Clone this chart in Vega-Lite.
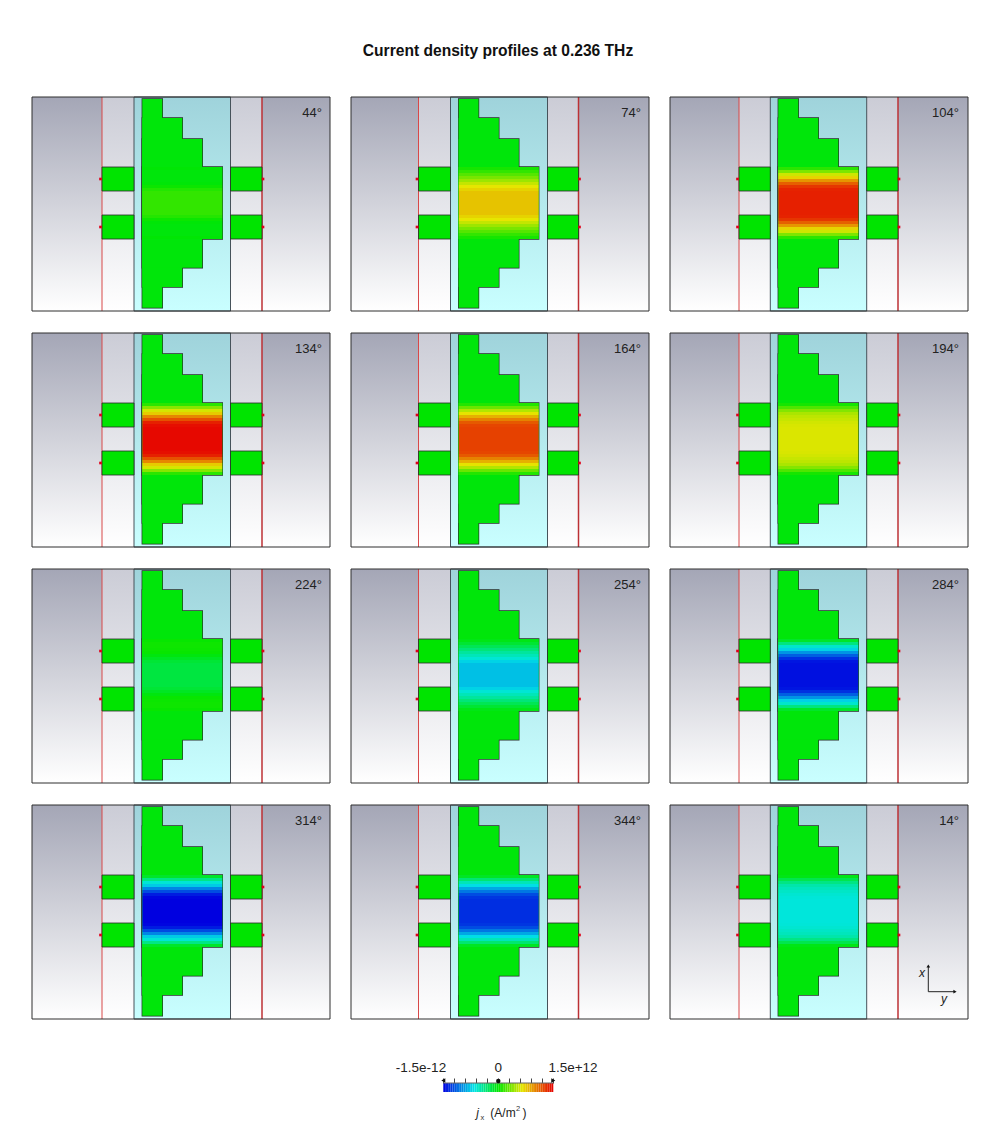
{"$schema":"https://vega.github.io/schema/vega-lite/v6.json","background":"white","padding":{"left":31,"top":43,"right":0,"bottom":0},"title":{"text":"Current density profiles at 0.236 THz","font":"Liberation Sans","fontSize":15.6,"fontWeight":"bold","color":"#111111","anchor":"middle","offset":36,"dx":-2},"config":{"view":{"stroke":null},"header":{"labels":false,"title":null,"labelExpr":"''","labelFontSize":1,"labelPadding":0}},"spacing":41,"vconcat":[{"data":{"values":[
{"k":"o","p":[44,134,224,314],"x":0,"x2":70,"y":0,"y2":214},{"k":"o","p":[44,134,224,314],"x":230,"x2":298,"y":0,"y2":214},{"k":"i","p":[44,134,224,314],"x":70,"x2":102,"y":0,"y2":214},{"k":"i","p":[44,134,224,314],"x":198.5,"x2":230,"y":0,"y2":214},{"k":"s","p":[44,134,224,314],"x":102,"x2":198.5,"y":0,"y2":214},
{"k":"r","p":[44,134,224,314],"x":70,"x2":70,"y":0,"y2":214},{"k":"R","p":[44,134,224,314],"x":230,"x2":230,"y":0,"y2":214},
{"k":"g","p":[44,134,224,314],"x":70,"x2":102,"y":70,"y2":94},{"k":"g","p":[44,134,224,314],"x":70,"x2":102,"y":118,"y2":142},{"k":"g","p":[44,134,224,314],"x":198.5,"x2":230,"y":70,"y2":94},{"k":"g","p":[44,134,224,314],"x":198.5,"x2":230,"y":118,"y2":142},
{"k":"d","p":[44,134,224,314],"x":68.5,"y":82},{"k":"d","p":[44,134,224,314],"x":68.5,"y":130},{"k":"d","p":[44,134,224,314],"x":231,"y":82},{"k":"d","p":[44,134,224,314],"x":231,"y":130},
{"k":"t","p":[44,134,224,314],"x":110.3,"x2":130.3,"y":2,"y2":210.7},{"k":"t","p":[44,134,224,314],"x":110.3,"x2":150.3,"y":21,"y2":190},{"k":"t","p":[44,134,224,314],"x":110.3,"x2":170.3,"y":42,"y2":170.7},{"k":"t","p":[44,134,224,314],"x":110.3,"x2":190.3,"y":70,"y2":142},
{"k":"o","p":[74,164,254,344],"x":0,"x2":67.5,"y":0,"y2":214},{"k":"o","p":[74,164,254,344],"x":227.5,"x2":298,"y":0,"y2":214},{"k":"i","p":[74,164,254,344],"x":67.5,"x2":99.5,"y":0,"y2":214},{"k":"i","p":[74,164,254,344],"x":196.5,"x2":227.5,"y":0,"y2":214},{"k":"s","p":[74,164,254,344],"x":99.5,"x2":196.5,"y":0,"y2":214},
{"k":"r","p":[74,164,254,344],"x":67.5,"x2":67.5,"y":0,"y2":214},{"k":"R","p":[74,164,254,344],"x":227.5,"x2":227.5,"y":0,"y2":214},
{"k":"g","p":[74,164,254,344],"x":67.5,"x2":99.5,"y":70,"y2":94},{"k":"g","p":[74,164,254,344],"x":67.5,"x2":99.5,"y":118,"y2":142},{"k":"g","p":[74,164,254,344],"x":196.5,"x2":227.5,"y":70,"y2":94},{"k":"g","p":[74,164,254,344],"x":196.5,"x2":227.5,"y":118,"y2":142},
{"k":"d","p":[74,164,254,344],"x":66,"y":82},{"k":"d","p":[74,164,254,344],"x":66,"y":130},{"k":"d","p":[74,164,254,344],"x":228.5,"y":82},{"k":"d","p":[74,164,254,344],"x":228.5,"y":130},
{"k":"t","p":[74,164,254,344],"x":107.7,"x2":127.5,"y":2,"y2":210.7},{"k":"t","p":[74,164,254,344],"x":107.7,"x2":147.8,"y":21,"y2":190},{"k":"t","p":[74,164,254,344],"x":107.7,"x2":167.8,"y":42,"y2":170.7},{"k":"t","p":[74,164,254,344],"x":107.7,"x2":187.7,"y":70,"y2":142},
{"k":"o","p":[104,194,284,14],"x":0,"x2":69,"y":0,"y2":214},{"k":"o","p":[104,194,284,14],"x":228,"x2":298,"y":0,"y2":214},{"k":"i","p":[104,194,284,14],"x":69,"x2":100.3,"y":0,"y2":214},{"k":"i","p":[104,194,284,14],"x":196.7,"x2":228,"y":0,"y2":214},{"k":"s","p":[104,194,284,14],"x":100.3,"x2":196.7,"y":0,"y2":214},
{"k":"r","p":[104,194,284,14],"x":69,"x2":69,"y":0,"y2":214},{"k":"R","p":[104,194,284,14],"x":228,"x2":228,"y":0,"y2":214},
{"k":"g","p":[104,194,284,14],"x":69,"x2":100.3,"y":70,"y2":94},{"k":"g","p":[104,194,284,14],"x":69,"x2":100.3,"y":118,"y2":142},{"k":"g","p":[104,194,284,14],"x":196.7,"x2":228,"y":70,"y2":94},{"k":"g","p":[104,194,284,14],"x":196.7,"x2":228,"y":118,"y2":142},
{"k":"d","p":[104,194,284,14],"x":67.5,"y":82},{"k":"d","p":[104,194,284,14],"x":67.5,"y":130},{"k":"d","p":[104,194,284,14],"x":229,"y":82},{"k":"d","p":[104,194,284,14],"x":229,"y":130},
{"k":"t","p":[104,194,284,14],"x":108.3,"x2":128.3,"y":2,"y2":210.7},{"k":"t","p":[104,194,284,14],"x":108.3,"x2":148.3,"y":21,"y2":190},{"k":"t","p":[104,194,284,14],"x":108.3,"x2":168.3,"y":42,"y2":170.7},{"k":"t","p":[104,194,284,14],"x":108.3,"x2":188.3,"y":70,"y2":142},
{"k":"f","p":[44,74,104,134,164,194,224,254,284,314,344,14],"x":0,"x2":298,"y":0,"y2":214},
{"k":"a","p":[44],"x":290,"y":16,"t":"44°"},{"k":"a","p":[74],"x":290,"y":16,"t":"74°"},{"k":"a","p":[104],"x":289,"y":16,"t":"104°"},{"k":"a","p":[134],"x":290,"y":16,"t":"134°"},{"k":"a","p":[164],"x":290,"y":16,"t":"164°"},{"k":"a","p":[194],"x":289,"y":16,"t":"194°"},{"k":"a","p":[224],"x":290,"y":16,"t":"224°"},{"k":"a","p":[254],"x":290,"y":16,"t":"254°"},{"k":"a","p":[284],"x":289,"y":16,"t":"284°"},{"k":"a","p":[314],"x":290,"y":16,"t":"314°"},{"k":"a","p":[344],"x":290,"y":16,"t":"344°"},{"k":"a","p":[14],"x":289,"y":16,"t":"14°"},
{"k":"v","p":[14],"x":258.3,"x2":258.3,"y":186.7,"y2":162},{"k":"v","p":[14],"x":258.3,"x2":284,"y":186.7,"y2":186.7},
{"k":"u","p":[14],"x":258.3,"y":161},{"k":"w","p":[14],"x":285,"y":186.7},
{"k":"e","p":[14],"x":252,"y":168,"t":"x"},{"k":"e","p":[14],"x":274,"y":194,"t":"y"},
{"k":"h","p":[44],"x":110.3,"x2":190.3,"y":70,"y2":73,"v":-0.01},{"k":"h","p":[44],"x":110.3,"x2":190.3,"y":73,"y2":76,"v":-0.03},{"k":"h","p":[44],"x":110.3,"x2":190.3,"y":76,"y2":79,"v":-0.03},{"k":"h","p":[44],"x":110.3,"x2":190.3,"y":79,"y2":82,"v":-0.03},{"k":"h","p":[44],"x":110.3,"x2":190.3,"y":82,"y2":85,"v":-0.03},{"k":"h","p":[44],"x":110.3,"x2":190.3,"y":85,"y2":88,"v":-0.02},{"k":"h","p":[44],"x":110.3,"x2":190.3,"y":88,"y2":91,"v":0.03},{"k":"h","p":[44],"x":110.3,"x2":190.3,"y":91,"y2":94,"v":0.1},{"k":"h","p":[44],"x":110.3,"x2":190.3,"y":94,"y2":118,"v":0.14},{"k":"h","p":[44],"x":110.3,"x2":190.3,"y":118,"y2":121,"v":0.1},{"k":"h","p":[44],"x":110.3,"x2":190.3,"y":121,"y2":124,"v":0.03},{"k":"h","p":[44],"x":110.3,"x2":190.3,"y":124,"y2":127,"v":-0.02},{"k":"h","p":[44],"x":110.3,"x2":190.3,"y":127,"y2":130,"v":-0.03},{"k":"h","p":[44],"x":110.3,"x2":190.3,"y":130,"y2":133,"v":-0.03},{"k":"h","p":[44],"x":110.3,"x2":190.3,"y":133,"y2":136,"v":-0.03},{"k":"h","p":[44],"x":110.3,"x2":190.3,"y":136,"y2":139,"v":-0.03},{"k":"h","p":[44],"x":110.3,"x2":190.3,"y":139,"y2":142,"v":-0.01},
{"k":"h","p":[134],"x":110.3,"x2":190.3,"y":70,"y2":73,"v":0.12},{"k":"h","p":[134],"x":110.3,"x2":190.3,"y":73,"y2":76,"v":0.38},{"k":"h","p":[134],"x":110.3,"x2":190.3,"y":76,"y2":79,"v":0.6},{"k":"h","p":[134],"x":110.3,"x2":190.3,"y":79,"y2":82,"v":0.75},{"k":"h","p":[134],"x":110.3,"x2":190.3,"y":82,"y2":85,"v":1.0},{"k":"h","p":[134],"x":110.3,"x2":190.3,"y":85,"y2":88,"v":1.2},{"k":"h","p":[134],"x":110.3,"x2":190.3,"y":88,"y2":91,"v":1.38},{"k":"h","p":[134],"x":110.3,"x2":190.3,"y":91,"y2":94,"v":1.45},{"k":"h","p":[134],"x":110.3,"x2":190.3,"y":94,"y2":118,"v":1.47},{"k":"h","p":[134],"x":110.3,"x2":190.3,"y":118,"y2":121,"v":1.45},{"k":"h","p":[134],"x":110.3,"x2":190.3,"y":121,"y2":124,"v":1.38},{"k":"h","p":[134],"x":110.3,"x2":190.3,"y":124,"y2":127,"v":1.2},{"k":"h","p":[134],"x":110.3,"x2":190.3,"y":127,"y2":130,"v":1.0},{"k":"h","p":[134],"x":110.3,"x2":190.3,"y":130,"y2":133,"v":0.75},{"k":"h","p":[134],"x":110.3,"x2":190.3,"y":133,"y2":136,"v":0.6},{"k":"h","p":[134],"x":110.3,"x2":190.3,"y":136,"y2":139,"v":0.38},{"k":"h","p":[134],"x":110.3,"x2":190.3,"y":139,"y2":142,"v":0.12},
{"k":"h","p":[224],"x":110.3,"x2":190.3,"y":70,"y2":73,"v":0.02},{"k":"h","p":[224],"x":110.3,"x2":190.3,"y":73,"y2":76,"v":0.04},{"k":"h","p":[224],"x":110.3,"x2":190.3,"y":76,"y2":79,"v":0.04},{"k":"h","p":[224],"x":110.3,"x2":190.3,"y":79,"y2":82,"v":0.03},{"k":"h","p":[224],"x":110.3,"x2":190.3,"y":82,"y2":85,"v":0.02},{"k":"h","p":[224],"x":110.3,"x2":190.3,"y":85,"y2":88,"v":-0.04},{"k":"h","p":[224],"x":110.3,"x2":190.3,"y":88,"y2":91,"v":-0.1},{"k":"h","p":[224],"x":110.3,"x2":190.3,"y":91,"y2":94,"v":-0.15},{"k":"h","p":[224],"x":110.3,"x2":190.3,"y":94,"y2":118,"v":-0.18},{"k":"h","p":[224],"x":110.3,"x2":190.3,"y":118,"y2":121,"v":-0.15},{"k":"h","p":[224],"x":110.3,"x2":190.3,"y":121,"y2":124,"v":-0.1},{"k":"h","p":[224],"x":110.3,"x2":190.3,"y":124,"y2":127,"v":-0.04},{"k":"h","p":[224],"x":110.3,"x2":190.3,"y":127,"y2":130,"v":0.02},{"k":"h","p":[224],"x":110.3,"x2":190.3,"y":130,"y2":133,"v":0.03},{"k":"h","p":[224],"x":110.3,"x2":190.3,"y":133,"y2":136,"v":0.04},{"k":"h","p":[224],"x":110.3,"x2":190.3,"y":136,"y2":139,"v":0.04},{"k":"h","p":[224],"x":110.3,"x2":190.3,"y":139,"y2":142,"v":0.02},
{"k":"h","p":[314],"x":110.3,"x2":190.3,"y":70,"y2":73,"v":-0.12},{"k":"h","p":[314],"x":110.3,"x2":190.3,"y":73,"y2":76,"v":-0.38},{"k":"h","p":[314],"x":110.3,"x2":190.3,"y":76,"y2":79,"v":-0.6},{"k":"h","p":[314],"x":110.3,"x2":190.3,"y":79,"y2":82,"v":-0.75},{"k":"h","p":[314],"x":110.3,"x2":190.3,"y":82,"y2":85,"v":-1.0},{"k":"h","p":[314],"x":110.3,"x2":190.3,"y":85,"y2":88,"v":-1.22},{"k":"h","p":[314],"x":110.3,"x2":190.3,"y":88,"y2":91,"v":-1.4},{"k":"h","p":[314],"x":110.3,"x2":190.3,"y":91,"y2":94,"v":-1.48},{"k":"h","p":[314],"x":110.3,"x2":190.3,"y":94,"y2":118,"v":-1.5},{"k":"h","p":[314],"x":110.3,"x2":190.3,"y":118,"y2":121,"v":-1.48},{"k":"h","p":[314],"x":110.3,"x2":190.3,"y":121,"y2":124,"v":-1.4},{"k":"h","p":[314],"x":110.3,"x2":190.3,"y":124,"y2":127,"v":-1.22},{"k":"h","p":[314],"x":110.3,"x2":190.3,"y":127,"y2":130,"v":-1.0},{"k":"h","p":[314],"x":110.3,"x2":190.3,"y":130,"y2":133,"v":-0.75},{"k":"h","p":[314],"x":110.3,"x2":190.3,"y":133,"y2":136,"v":-0.6},{"k":"h","p":[314],"x":110.3,"x2":190.3,"y":136,"y2":139,"v":-0.38},{"k":"h","p":[314],"x":110.3,"x2":190.3,"y":139,"y2":142,"v":-0.12},
{"k":"h","p":[74],"x":107.7,"x2":187.7,"y":70,"y2":73,"v":0.06},{"k":"h","p":[74],"x":107.7,"x2":187.7,"y":73,"y2":76,"v":0.14},{"k":"h","p":[74],"x":107.7,"x2":187.7,"y":76,"y2":79,"v":0.24},{"k":"h","p":[74],"x":107.7,"x2":187.7,"y":79,"y2":82,"v":0.34},{"k":"h","p":[74],"x":107.7,"x2":187.7,"y":82,"y2":85,"v":0.44},{"k":"h","p":[74],"x":107.7,"x2":187.7,"y":85,"y2":88,"v":0.55},{"k":"h","p":[74],"x":107.7,"x2":187.7,"y":88,"y2":91,"v":0.65},{"k":"h","p":[74],"x":107.7,"x2":187.7,"y":91,"y2":94,"v":0.72},{"k":"h","p":[74],"x":107.7,"x2":187.7,"y":94,"y2":118,"v":0.78},{"k":"h","p":[74],"x":107.7,"x2":187.7,"y":118,"y2":121,"v":0.72},{"k":"h","p":[74],"x":107.7,"x2":187.7,"y":121,"y2":124,"v":0.65},{"k":"h","p":[74],"x":107.7,"x2":187.7,"y":124,"y2":127,"v":0.55},{"k":"h","p":[74],"x":107.7,"x2":187.7,"y":127,"y2":130,"v":0.44},{"k":"h","p":[74],"x":107.7,"x2":187.7,"y":130,"y2":133,"v":0.34},{"k":"h","p":[74],"x":107.7,"x2":187.7,"y":133,"y2":136,"v":0.24},{"k":"h","p":[74],"x":107.7,"x2":187.7,"y":136,"y2":139,"v":0.14},{"k":"h","p":[74],"x":107.7,"x2":187.7,"y":139,"y2":142,"v":0.06},
{"k":"h","p":[164],"x":107.7,"x2":187.7,"y":70,"y2":73,"v":0.1},{"k":"h","p":[164],"x":107.7,"x2":187.7,"y":73,"y2":76,"v":0.3},{"k":"h","p":[164],"x":107.7,"x2":187.7,"y":76,"y2":79,"v":0.5},{"k":"h","p":[164],"x":107.7,"x2":187.7,"y":79,"y2":82,"v":0.66},{"k":"h","p":[164],"x":107.7,"x2":187.7,"y":82,"y2":85,"v":0.85},{"k":"h","p":[164],"x":107.7,"x2":187.7,"y":85,"y2":88,"v":1.02},{"k":"h","p":[164],"x":107.7,"x2":187.7,"y":88,"y2":91,"v":1.17},{"k":"h","p":[164],"x":107.7,"x2":187.7,"y":91,"y2":94,"v":1.24},{"k":"h","p":[164],"x":107.7,"x2":187.7,"y":94,"y2":118,"v":1.26},{"k":"h","p":[164],"x":107.7,"x2":187.7,"y":118,"y2":121,"v":1.24},{"k":"h","p":[164],"x":107.7,"x2":187.7,"y":121,"y2":124,"v":1.17},{"k":"h","p":[164],"x":107.7,"x2":187.7,"y":124,"y2":127,"v":1.02},{"k":"h","p":[164],"x":107.7,"x2":187.7,"y":127,"y2":130,"v":0.85},{"k":"h","p":[164],"x":107.7,"x2":187.7,"y":130,"y2":133,"v":0.66},{"k":"h","p":[164],"x":107.7,"x2":187.7,"y":133,"y2":136,"v":0.5},{"k":"h","p":[164],"x":107.7,"x2":187.7,"y":136,"y2":139,"v":0.3},{"k":"h","p":[164],"x":107.7,"x2":187.7,"y":139,"y2":142,"v":0.1},
{"k":"h","p":[254],"x":107.7,"x2":187.7,"y":70,"y2":73,"v":-0.06},{"k":"h","p":[254],"x":107.7,"x2":187.7,"y":73,"y2":76,"v":-0.14},{"k":"h","p":[254],"x":107.7,"x2":187.7,"y":76,"y2":79,"v":-0.24},{"k":"h","p":[254],"x":107.7,"x2":187.7,"y":79,"y2":82,"v":-0.34},{"k":"h","p":[254],"x":107.7,"x2":187.7,"y":82,"y2":85,"v":-0.44},{"k":"h","p":[254],"x":107.7,"x2":187.7,"y":85,"y2":88,"v":-0.52},{"k":"h","p":[254],"x":107.7,"x2":187.7,"y":88,"y2":91,"v":-0.6},{"k":"h","p":[254],"x":107.7,"x2":187.7,"y":91,"y2":94,"v":-0.72},{"k":"h","p":[254],"x":107.7,"x2":187.7,"y":94,"y2":118,"v":-0.79},{"k":"h","p":[254],"x":107.7,"x2":187.7,"y":118,"y2":121,"v":-0.72},{"k":"h","p":[254],"x":107.7,"x2":187.7,"y":121,"y2":124,"v":-0.6},{"k":"h","p":[254],"x":107.7,"x2":187.7,"y":124,"y2":127,"v":-0.52},{"k":"h","p":[254],"x":107.7,"x2":187.7,"y":127,"y2":130,"v":-0.44},{"k":"h","p":[254],"x":107.7,"x2":187.7,"y":130,"y2":133,"v":-0.34},{"k":"h","p":[254],"x":107.7,"x2":187.7,"y":133,"y2":136,"v":-0.24},{"k":"h","p":[254],"x":107.7,"x2":187.7,"y":136,"y2":139,"v":-0.14},{"k":"h","p":[254],"x":107.7,"x2":187.7,"y":139,"y2":142,"v":-0.06},
{"k":"h","p":[344],"x":107.7,"x2":187.7,"y":70,"y2":73,"v":-0.1},{"k":"h","p":[344],"x":107.7,"x2":187.7,"y":73,"y2":76,"v":-0.32},{"k":"h","p":[344],"x":107.7,"x2":187.7,"y":76,"y2":79,"v":-0.52},{"k":"h","p":[344],"x":107.7,"x2":187.7,"y":79,"y2":82,"v":-0.68},{"k":"h","p":[344],"x":107.7,"x2":187.7,"y":82,"y2":85,"v":-0.88},{"k":"h","p":[344],"x":107.7,"x2":187.7,"y":85,"y2":88,"v":-1.06},{"k":"h","p":[344],"x":107.7,"x2":187.7,"y":88,"y2":91,"v":-1.22},{"k":"h","p":[344],"x":107.7,"x2":187.7,"y":91,"y2":94,"v":-1.3},{"k":"h","p":[344],"x":107.7,"x2":187.7,"y":94,"y2":118,"v":-1.33},{"k":"h","p":[344],"x":107.7,"x2":187.7,"y":118,"y2":121,"v":-1.3},{"k":"h","p":[344],"x":107.7,"x2":187.7,"y":121,"y2":124,"v":-1.22},{"k":"h","p":[344],"x":107.7,"x2":187.7,"y":124,"y2":127,"v":-1.06},{"k":"h","p":[344],"x":107.7,"x2":187.7,"y":127,"y2":130,"v":-0.88},{"k":"h","p":[344],"x":107.7,"x2":187.7,"y":130,"y2":133,"v":-0.68},{"k":"h","p":[344],"x":107.7,"x2":187.7,"y":133,"y2":136,"v":-0.52},{"k":"h","p":[344],"x":107.7,"x2":187.7,"y":136,"y2":139,"v":-0.32},{"k":"h","p":[344],"x":107.7,"x2":187.7,"y":139,"y2":142,"v":-0.1},
{"k":"h","p":[104],"x":108.3,"x2":188.3,"y":70,"y2":73,"v":0.12},{"k":"h","p":[104],"x":108.3,"x2":188.3,"y":73,"y2":76,"v":0.35},{"k":"h","p":[104],"x":108.3,"x2":188.3,"y":76,"y2":79,"v":0.58},{"k":"h","p":[104],"x":108.3,"x2":188.3,"y":79,"y2":82,"v":0.72},{"k":"h","p":[104],"x":108.3,"x2":188.3,"y":82,"y2":85,"v":0.95},{"k":"h","p":[104],"x":108.3,"x2":188.3,"y":85,"y2":88,"v":1.15},{"k":"h","p":[104],"x":108.3,"x2":188.3,"y":88,"y2":91,"v":1.3},{"k":"h","p":[104],"x":108.3,"x2":188.3,"y":91,"y2":94,"v":1.37},{"k":"h","p":[104],"x":108.3,"x2":188.3,"y":94,"y2":118,"v":1.38},{"k":"h","p":[104],"x":108.3,"x2":188.3,"y":118,"y2":121,"v":1.37},{"k":"h","p":[104],"x":108.3,"x2":188.3,"y":121,"y2":124,"v":1.3},{"k":"h","p":[104],"x":108.3,"x2":188.3,"y":124,"y2":127,"v":1.15},{"k":"h","p":[104],"x":108.3,"x2":188.3,"y":127,"y2":130,"v":0.95},{"k":"h","p":[104],"x":108.3,"x2":188.3,"y":130,"y2":133,"v":0.72},{"k":"h","p":[104],"x":108.3,"x2":188.3,"y":133,"y2":136,"v":0.58},{"k":"h","p":[104],"x":108.3,"x2":188.3,"y":136,"y2":139,"v":0.35},{"k":"h","p":[104],"x":108.3,"x2":188.3,"y":139,"y2":142,"v":0.12},
{"k":"h","p":[194],"x":108.3,"x2":188.3,"y":70,"y2":73,"v":0.06},{"k":"h","p":[194],"x":108.3,"x2":188.3,"y":73,"y2":76,"v":0.22},{"k":"h","p":[194],"x":108.3,"x2":188.3,"y":76,"y2":79,"v":0.37},{"k":"h","p":[194],"x":108.3,"x2":188.3,"y":79,"y2":82,"v":0.48},{"k":"h","p":[194],"x":108.3,"x2":188.3,"y":82,"y2":85,"v":0.53},{"k":"h","p":[194],"x":108.3,"x2":188.3,"y":85,"y2":88,"v":0.56},{"k":"h","p":[194],"x":108.3,"x2":188.3,"y":88,"y2":91,"v":0.59},{"k":"h","p":[194],"x":108.3,"x2":188.3,"y":91,"y2":94,"v":0.61},{"k":"h","p":[194],"x":108.3,"x2":188.3,"y":94,"y2":118,"v":0.62},{"k":"h","p":[194],"x":108.3,"x2":188.3,"y":118,"y2":121,"v":0.61},{"k":"h","p":[194],"x":108.3,"x2":188.3,"y":121,"y2":124,"v":0.59},{"k":"h","p":[194],"x":108.3,"x2":188.3,"y":124,"y2":127,"v":0.56},{"k":"h","p":[194],"x":108.3,"x2":188.3,"y":127,"y2":130,"v":0.53},{"k":"h","p":[194],"x":108.3,"x2":188.3,"y":130,"y2":133,"v":0.48},{"k":"h","p":[194],"x":108.3,"x2":188.3,"y":133,"y2":136,"v":0.37},{"k":"h","p":[194],"x":108.3,"x2":188.3,"y":136,"y2":139,"v":0.22},{"k":"h","p":[194],"x":108.3,"x2":188.3,"y":139,"y2":142,"v":0.06},
{"k":"h","p":[284],"x":108.3,"x2":188.3,"y":70,"y2":73,"v":-0.12},{"k":"h","p":[284],"x":108.3,"x2":188.3,"y":73,"y2":76,"v":-0.36},{"k":"h","p":[284],"x":108.3,"x2":188.3,"y":76,"y2":79,"v":-0.58},{"k":"h","p":[284],"x":108.3,"x2":188.3,"y":79,"y2":82,"v":-0.72},{"k":"h","p":[284],"x":108.3,"x2":188.3,"y":82,"y2":85,"v":-0.95},{"k":"h","p":[284],"x":108.3,"x2":188.3,"y":85,"y2":88,"v":-1.15},{"k":"h","p":[284],"x":108.3,"x2":188.3,"y":88,"y2":91,"v":-1.32},{"k":"h","p":[284],"x":108.3,"x2":188.3,"y":91,"y2":94,"v":-1.42},{"k":"h","p":[284],"x":108.3,"x2":188.3,"y":94,"y2":118,"v":-1.44},{"k":"h","p":[284],"x":108.3,"x2":188.3,"y":118,"y2":121,"v":-1.42},{"k":"h","p":[284],"x":108.3,"x2":188.3,"y":121,"y2":124,"v":-1.32},{"k":"h","p":[284],"x":108.3,"x2":188.3,"y":124,"y2":127,"v":-1.15},{"k":"h","p":[284],"x":108.3,"x2":188.3,"y":127,"y2":130,"v":-0.95},{"k":"h","p":[284],"x":108.3,"x2":188.3,"y":130,"y2":133,"v":-0.72},{"k":"h","p":[284],"x":108.3,"x2":188.3,"y":133,"y2":136,"v":-0.58},{"k":"h","p":[284],"x":108.3,"x2":188.3,"y":136,"y2":139,"v":-0.36},{"k":"h","p":[284],"x":108.3,"x2":188.3,"y":139,"y2":142,"v":-0.12},
{"k":"h","p":[14],"x":108.3,"x2":188.3,"y":70,"y2":73,"v":-0.06},{"k":"h","p":[14],"x":108.3,"x2":188.3,"y":73,"y2":76,"v":-0.22},{"k":"h","p":[14],"x":108.3,"x2":188.3,"y":76,"y2":79,"v":-0.37},{"k":"h","p":[14],"x":108.3,"x2":188.3,"y":79,"y2":82,"v":-0.48},{"k":"h","p":[14],"x":108.3,"x2":188.3,"y":82,"y2":85,"v":-0.53},{"k":"h","p":[14],"x":108.3,"x2":188.3,"y":85,"y2":88,"v":-0.56},{"k":"h","p":[14],"x":108.3,"x2":188.3,"y":88,"y2":91,"v":-0.59},{"k":"h","p":[14],"x":108.3,"x2":188.3,"y":91,"y2":94,"v":-0.61},{"k":"h","p":[14],"x":108.3,"x2":188.3,"y":94,"y2":118,"v":-0.62},{"k":"h","p":[14],"x":108.3,"x2":188.3,"y":118,"y2":121,"v":-0.61},{"k":"h","p":[14],"x":108.3,"x2":188.3,"y":121,"y2":124,"v":-0.59},{"k":"h","p":[14],"x":108.3,"x2":188.3,"y":124,"y2":127,"v":-0.56},{"k":"h","p":[14],"x":108.3,"x2":188.3,"y":127,"y2":130,"v":-0.53},{"k":"h","p":[14],"x":108.3,"x2":188.3,"y":130,"y2":133,"v":-0.48},{"k":"h","p":[14],"x":108.3,"x2":188.3,"y":133,"y2":136,"v":-0.37},{"k":"h","p":[14],"x":108.3,"x2":188.3,"y":136,"y2":139,"v":-0.22},{"k":"h","p":[14],"x":108.3,"x2":188.3,"y":139,"y2":142,"v":-0.06}
]},"transform":[{"flatten":["p"]}],"columns":3,"facet":{"field":"p","type":"ordinal","title":null,"header":{"title":null,"labels":false,"labelExpr":"''","labelFontSize":1,"labelPadding":0},"sort":[44,74,104,134,164,194,224,254,284,314,344,14]},"spacing":{"row":19,"column":19},"spec":{"width":298,"height":214,"encoding":{"x":{"field":"x","type":"quantitative","scale":{"domain":[0,298],"nice":false,"zero":false},"axis":null},"y":{"field":"y","type":"quantitative","scale":{"domain":[214,0],"nice":false,"zero":false},"axis":null}},"layer":[
{"transform":[{"filter":"datum.k=='o'"}],"mark":{"type":"rect","color":{"x1":0,"y1":0,"x2":0,"y2":1,"gradient":"linear","stops":[{"offset":0,"color":"#a4a6b6"},{"offset":1,"color":"#ffffff"}]}},"encoding":{"x2":{"field":"x2"},"y2":{"field":"y2"}}},
{"transform":[{"filter":"datum.k=='i'"}],"mark":{"type":"rect","color":{"x1":0,"y1":0,"x2":0,"y2":1,"gradient":"linear","stops":[{"offset":0,"color":"#cbccd6"},{"offset":1,"color":"#ffffff"}]}},"encoding":{"x2":{"field":"x2"},"y2":{"field":"y2"}}},
{"transform":[{"filter":"datum.k=='s'"}],"mark":{"type":"rect","stroke":"#46525a","strokeWidth":1,"color":{"x1":0,"y1":0,"x2":0,"y2":1,"gradient":"linear","stops":[{"offset":0,"color":"#9fd3db"},{"offset":1,"color":"#c9ffff"}]}},"encoding":{"x2":{"field":"x2"},"y2":{"field":"y2"}}},
{"transform":[{"filter":"datum.k=='r'"}],"mark":{"type":"rule","color":"#d84848","strokeWidth":1},"encoding":{"x2":{"field":"x2"},"y2":{"field":"y2"}}},
{"transform":[{"filter":"datum.k=='R'"}],"mark":{"type":"rule","color":"#bc3034","strokeWidth":1.5},"encoding":{"x2":{"field":"x2"},"y2":{"field":"y2"}}},
{"transform":[{"filter":"datum.k=='g'"}],"mark":{"type":"rect","color":"#00e400","stroke":"#2a2a2a","strokeWidth":0.8},"encoding":{"x2":{"field":"x2"},"y2":{"field":"y2"}}},
{"transform":[{"filter":"datum.k=='d'"}],"mark":{"type":"point","shape":"square","filled":true,"color":"#e00018","size":7,"opacity":1}},
{"transform":[{"filter":"datum.k=='t'"}],"mark":{"type":"rect","color":"#2a2f2a","stroke":"#2a2f2a","strokeWidth":1.4},"encoding":{"x2":{"field":"x2"},"y2":{"field":"y2"}}},
{"transform":[{"filter":"datum.k=='t'"}],"mark":{"type":"rect","color":"#00e60a"},"encoding":{"x2":{"field":"x2"},"y2":{"field":"y2"}}},
{"transform":[{"filter":"datum.k=='h'"}],"mark":{"type":"rect"},"encoding":{"x2":{"field":"x2"},"y2":{"field":"y2"},"color":{"field":"v","type":"quantitative","legend":null,"scale":{"domain":[-1.5,-0.65,0,0.65,1.5],"range":["#0000e0","#00e6e6","#00e600","#e6e600","#e60000"],"interpolate":"rgb"}}}},
{"transform":[{"filter":"datum.k=='f'"}],"mark":{"type":"rect","fillOpacity":0,"stroke":"#2e2e2e","strokeWidth":1},"encoding":{"x2":{"field":"x2"},"y2":{"field":"y2"}}},
{"transform":[{"filter":"datum.k=='v'"}],"mark":{"type":"rule","color":"#222222","strokeWidth":1},"encoding":{"x2":{"field":"x2"},"y2":{"field":"y2"}}},
{"transform":[{"filter":"datum.k=='u'"}],"mark":{"type":"point","shape":"triangle-up","filled":true,"color":"#111111","size":14,"opacity":1}},
{"transform":[{"filter":"datum.k=='w'"}],"mark":{"type":"point","shape":"triangle-right","filled":true,"color":"#111111","size":14,"opacity":1}},
{"transform":[{"filter":"datum.k=='a'"}],"mark":{"type":"text","font":"Liberation Sans","fontSize":13,"align":"right","baseline":"middle","color":"#222222"},"encoding":{"text":{"field":"t"}}},
{"transform":[{"filter":"datum.k=='e'"}],"mark":{"type":"text","font":"Liberation Sans","fontSize":12,"fontStyle":"italic","align":"center","baseline":"middle","color":"#222222"},"encoding":{"text":{"field":"t"}}}
]}},
{"width":936,"height":40,"encoding":{"x":{"field":"v","type":"quantitative","scale":{"domain":[-12.716,12.809],"nice":false,"zero":false},"axis":{"orient":"top","title":null,"domain":false,"grid":false,"values":[-1.5,-1.2,-0.9,-0.6,-0.3,0,0.3,0.6,0.9,1.2,1.5],"labels":false,"tickSize":5,"tickColor":"#444444"}},"y":{"field":"y","type":"quantitative","scale":{"domain":[40,0],"nice":false,"zero":false},"axis":null}},"layer":[
{"data":{"values":[{"v":-1.5,"v2":-1.45,"y":0,"y2":9,"c":-1.475},{"v":-1.45,"v2":-1.4,"y":0,"y2":9,"c":-1.425},{"v":-1.4,"v2":-1.35,"y":0,"y2":9,"c":-1.375},{"v":-1.35,"v2":-1.3,"y":0,"y2":9,"c":-1.325},{"v":-1.3,"v2":-1.25,"y":0,"y2":9,"c":-1.275},{"v":-1.25,"v2":-1.2,"y":0,"y2":9,"c":-1.225},{"v":-1.2,"v2":-1.15,"y":0,"y2":9,"c":-1.175},{"v":-1.15,"v2":-1.1,"y":0,"y2":9,"c":-1.125},{"v":-1.1,"v2":-1.05,"y":0,"y2":9,"c":-1.075},{"v":-1.05,"v2":-1.0,"y":0,"y2":9,"c":-1.025},{"v":-1.0,"v2":-0.95,"y":0,"y2":9,"c":-0.975},{"v":-0.95,"v2":-0.9,"y":0,"y2":9,"c":-0.925},{"v":-0.9,"v2":-0.85,"y":0,"y2":9,"c":-0.875},{"v":-0.85,"v2":-0.8,"y":0,"y2":9,"c":-0.825},{"v":-0.8,"v2":-0.75,"y":0,"y2":9,"c":-0.775},{"v":-0.75,"v2":-0.7,"y":0,"y2":9,"c":-0.725},{"v":-0.7,"v2":-0.65,"y":0,"y2":9,"c":-0.675},{"v":-0.65,"v2":-0.6,"y":0,"y2":9,"c":-0.625},{"v":-0.6,"v2":-0.55,"y":0,"y2":9,"c":-0.575},{"v":-0.55,"v2":-0.5,"y":0,"y2":9,"c":-0.525},{"v":-0.5,"v2":-0.45,"y":0,"y2":9,"c":-0.475},{"v":-0.45,"v2":-0.4,"y":0,"y2":9,"c":-0.425},{"v":-0.4,"v2":-0.35,"y":0,"y2":9,"c":-0.375},{"v":-0.35,"v2":-0.3,"y":0,"y2":9,"c":-0.325},{"v":-0.3,"v2":-0.25,"y":0,"y2":9,"c":-0.275},{"v":-0.25,"v2":-0.2,"y":0,"y2":9,"c":-0.225},{"v":-0.2,"v2":-0.15,"y":0,"y2":9,"c":-0.175},{"v":-0.15,"v2":-0.1,"y":0,"y2":9,"c":-0.125},{"v":-0.1,"v2":-0.05,"y":0,"y2":9,"c":-0.075},{"v":-0.05,"v2":0,"y":0,"y2":9,"c":-0.025},{"v":0,"v2":0.05,"y":0,"y2":9,"c":0.025},{"v":0.05,"v2":0.1,"y":0,"y2":9,"c":0.075},{"v":0.1,"v2":0.15,"y":0,"y2":9,"c":0.125},{"v":0.15,"v2":0.2,"y":0,"y2":9,"c":0.175},{"v":0.2,"v2":0.25,"y":0,"y2":9,"c":0.225},{"v":0.25,"v2":0.3,"y":0,"y2":9,"c":0.275},{"v":0.3,"v2":0.35,"y":0,"y2":9,"c":0.325},{"v":0.35,"v2":0.4,"y":0,"y2":9,"c":0.375},{"v":0.4,"v2":0.45,"y":0,"y2":9,"c":0.425},{"v":0.45,"v2":0.5,"y":0,"y2":9,"c":0.475},{"v":0.5,"v2":0.55,"y":0,"y2":9,"c":0.525},{"v":0.55,"v2":0.6,"y":0,"y2":9,"c":0.575},{"v":0.6,"v2":0.65,"y":0,"y2":9,"c":0.625},{"v":0.65,"v2":0.7,"y":0,"y2":9,"c":0.675},{"v":0.7,"v2":0.75,"y":0,"y2":9,"c":0.725},{"v":0.75,"v2":0.8,"y":0,"y2":9,"c":0.775},{"v":0.8,"v2":0.85,"y":0,"y2":9,"c":0.825},{"v":0.85,"v2":0.9,"y":0,"y2":9,"c":0.875},{"v":0.9,"v2":0.95,"y":0,"y2":9,"c":0.925},{"v":0.95,"v2":1.0,"y":0,"y2":9,"c":0.975},{"v":1.0,"v2":1.05,"y":0,"y2":9,"c":1.025},{"v":1.05,"v2":1.1,"y":0,"y2":9,"c":1.075},{"v":1.1,"v2":1.15,"y":0,"y2":9,"c":1.125},{"v":1.15,"v2":1.2,"y":0,"y2":9,"c":1.175},{"v":1.2,"v2":1.25,"y":0,"y2":9,"c":1.225},{"v":1.25,"v2":1.3,"y":0,"y2":9,"c":1.275},{"v":1.3,"v2":1.35,"y":0,"y2":9,"c":1.325},{"v":1.35,"v2":1.4,"y":0,"y2":9,"c":1.375},{"v":1.4,"v2":1.45,"y":0,"y2":9,"c":1.425},{"v":1.45,"v2":1.5,"y":0,"y2":9,"c":1.475}]},"mark":{"type":"rect"},"encoding":{"x2":{"field":"v2"},"y2":{"field":"y2"},"color":{"field":"c","type":"quantitative","legend":null,"scale":{"domain":[-1.5,-0.65,0,0.65,1.5],"range":["#0000e0","#00e6e6","#00e600","#e6e600","#e60000"],"interpolate":"rgb"}}}},
{"data":{"values":[{"v":-1.5,"v2":1.5,"y":0}]},"mark":{"type":"rule","color":"#666666","strokeWidth":1},"encoding":{"x2":{"field":"v2"}}},
{"data":{"values":[{"v":-1.5,"y":-2.5}]},"mark":{"type":"point","shape":"triangle-left","filled":true,"color":"#111111","size":22,"opacity":1}},
{"data":{"values":[{"v":1.5,"y":-2.5}]},"mark":{"type":"point","shape":"triangle-right","filled":true,"color":"#111111","size":22,"opacity":1}},
{"data":{"values":[{"v":0,"y":-2}]},"mark":{"type":"point","shape":"circle","filled":true,"color":"#111111","size":20,"opacity":1}},
{"data":{"values":[{"v":-2.108,"y":-14.7,"t":"-1.5e-12"},{"v":0,"y":-14.7,"t":"0"},{"v":2.037,"y":-14.7,"t":"1.5e+12"}]},"mark":{"type":"text","font":"Liberation Sans","fontSize":13.5,"align":"center","baseline":"middle","color":"#222222"},"encoding":{"text":{"field":"t"}}},
{"data":{"values":[{"v":-0.567,"y":30,"t":"j"}]},"mark":{"type":"text","font":"Liberation Sans","fontSize":12,"fontStyle":"italic","align":"center","baseline":"middle","color":"#222222"},"encoding":{"text":{"field":"t"}}},
{"data":{"values":[{"v":-0.431,"y":35,"t":"x"},{"v":0.537,"y":26,"t":"2"}]},"mark":{"type":"text","font":"Liberation Sans","fontSize":7.5,"align":"center","baseline":"middle","color":"#333333"},"encoding":{"text":{"field":"t"}}},
{"data":{"values":[{"v":0.128,"y":30,"t":"(A/m"},{"v":0.714,"y":30,"t":")"}]},"mark":{"type":"text","font":"Liberation Sans","fontSize":12,"align":"center","baseline":"middle","color":"#222222"},"encoding":{"text":{"field":"t"}}}
]}]}
